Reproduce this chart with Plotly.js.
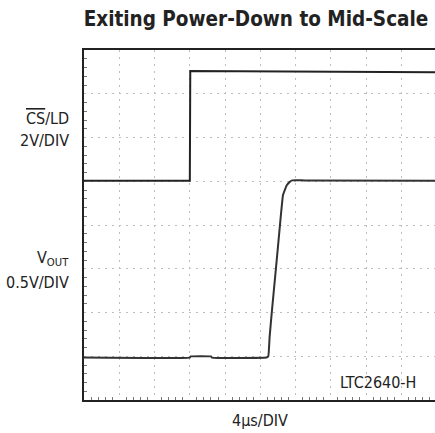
<!DOCTYPE html>
<html>
<head>
<meta charset="utf-8">
<script src="https://cdn.plot.ly/plotly-3.0.1.min.js"></script>
<style>html,body{margin:0;padding:0;background:#fff;}#chart{width:435px;height:433px;}</style>
</head>
<body>
<div id="chart"></div>
<script>
// time in microseconds (4 µs per division), amplitude in screen divisions from bottom
var csTime = [0, 12, 12.05, 40];
var csLevel = [5.01, 5.01, 7.52, 7.49];

var voutTime = [0, 12, 12.1, 14.4, 14.5, 20.7, 20.9, 21.05, 21.3, 21.77, 22.23, 22.57, 22.99, 23.3, 23.6, 25, 40];
var voutLevel = [0.97, 0.97, 0.995, 0.995, 0.97, 0.97, 1.0, 1.45, 2.02, 3.02, 4.02, 4.69, 4.91, 4.98, 5.02, 5.02, 5.01];

var FONT = "'Liberation Sans Narrow', 'DejaVu Sans Condensed', 'Arial Narrow', sans-serif";

var traces = [
  {x: csTime, y: csLevel, mode: 'lines', line: {color: '#222', width: 2}, hoverinfo: 'skip'},
  {x: voutTime, y: voutLevel, mode: 'lines', line: {color: '#333', width: 2, shape: 'spline', smoothing: 0.3}, hoverinfo: 'skip'}
];

function py(pix) { return (400 - pix) / 350; }
function px(pix) { return (pix - 84) / 351; }

var layout = {
  width: 435, height: 433,
  margin: {l: 84, r: 0, t: 50, b: 33},
  paper_bgcolor: '#fff', plot_bgcolor: '#fff',
  showlegend: false,
  font: {family: FONT, color: '#222'},
  title: {text: '<b>Exiting Power-Down to Mid-Scale</b>', font: {family: FONT, size: 20.5, color: '#222'},
          x: 256 / 435, xanchor: 'center', y: 1 - 19 / 433, yanchor: 'middle'},
  xaxis: {
    range: [0, 39.8], dtick: 4, tick0: 0, showticklabels: false,
    showgrid: true, gridcolor: '#bdbdbd', griddash: '2px,5px', gridwidth: 1,
    zeroline: false, showline: true, linecolor: '#222', linewidth: 2, mirror: true,
    ticks: '', minor: {dtick: 0.8, ticks: 'inside', ticklen: 3, tickcolor: '#777', showgrid: false},
    fixedrange: true
  },
  yaxis: {
    range: [0, 8], dtick: 1, tick0: 0, showticklabels: false,
    showgrid: true, gridcolor: '#bdbdbd', griddash: '2px,5px', gridwidth: 1,
    zeroline: false, showline: true, linecolor: '#222', linewidth: 2, mirror: false,
    ticks: '', minor: {dtick: 0.2, ticks: 'inside', ticklen: 3, tickcolor: '#777', showgrid: false},
    fixedrange: true
  },
  annotations: [
    {xref: 'paper', yref: 'paper', x: px(71), y: py(118), xanchor: 'right', yanchor: 'middle',
     text: '<span style="text-decoration:overline">CS</span>/LD', showarrow: false, font: {size: 16}},
    {xref: 'paper', yref: 'paper', x: px(71), y: py(140), xanchor: 'right', yanchor: 'middle',
     text: '2V/DIV', showarrow: false, font: {size: 16}},
    {xref: 'paper', yref: 'paper', x: px(71), y: py(258), xanchor: 'right', yanchor: 'middle',
     text: 'V<sub>OUT</sub>', showarrow: false, font: {size: 16}},
    {xref: 'paper', yref: 'paper', x: px(71), y: py(282), xanchor: 'right', yanchor: 'middle',
     text: '0.5V/DIV', showarrow: false, font: {size: 16}},
    {xref: 'paper', yref: 'paper', x: px(418), y: py(382), xanchor: 'right', yanchor: 'middle',
     text: 'LTC2640-H', showarrow: false, font: {size: 16}},
    {xref: 'paper', yref: 'paper', x: px(260), y: py(420), xanchor: 'center', yanchor: 'middle',
     text: '4µs/DIV', showarrow: false, font: {size: 16}}
  ]
};

Plotly.newPlot('chart', traces, layout, {displayModeBar: false, staticPlot: true});
</script>
</body>
</html>
